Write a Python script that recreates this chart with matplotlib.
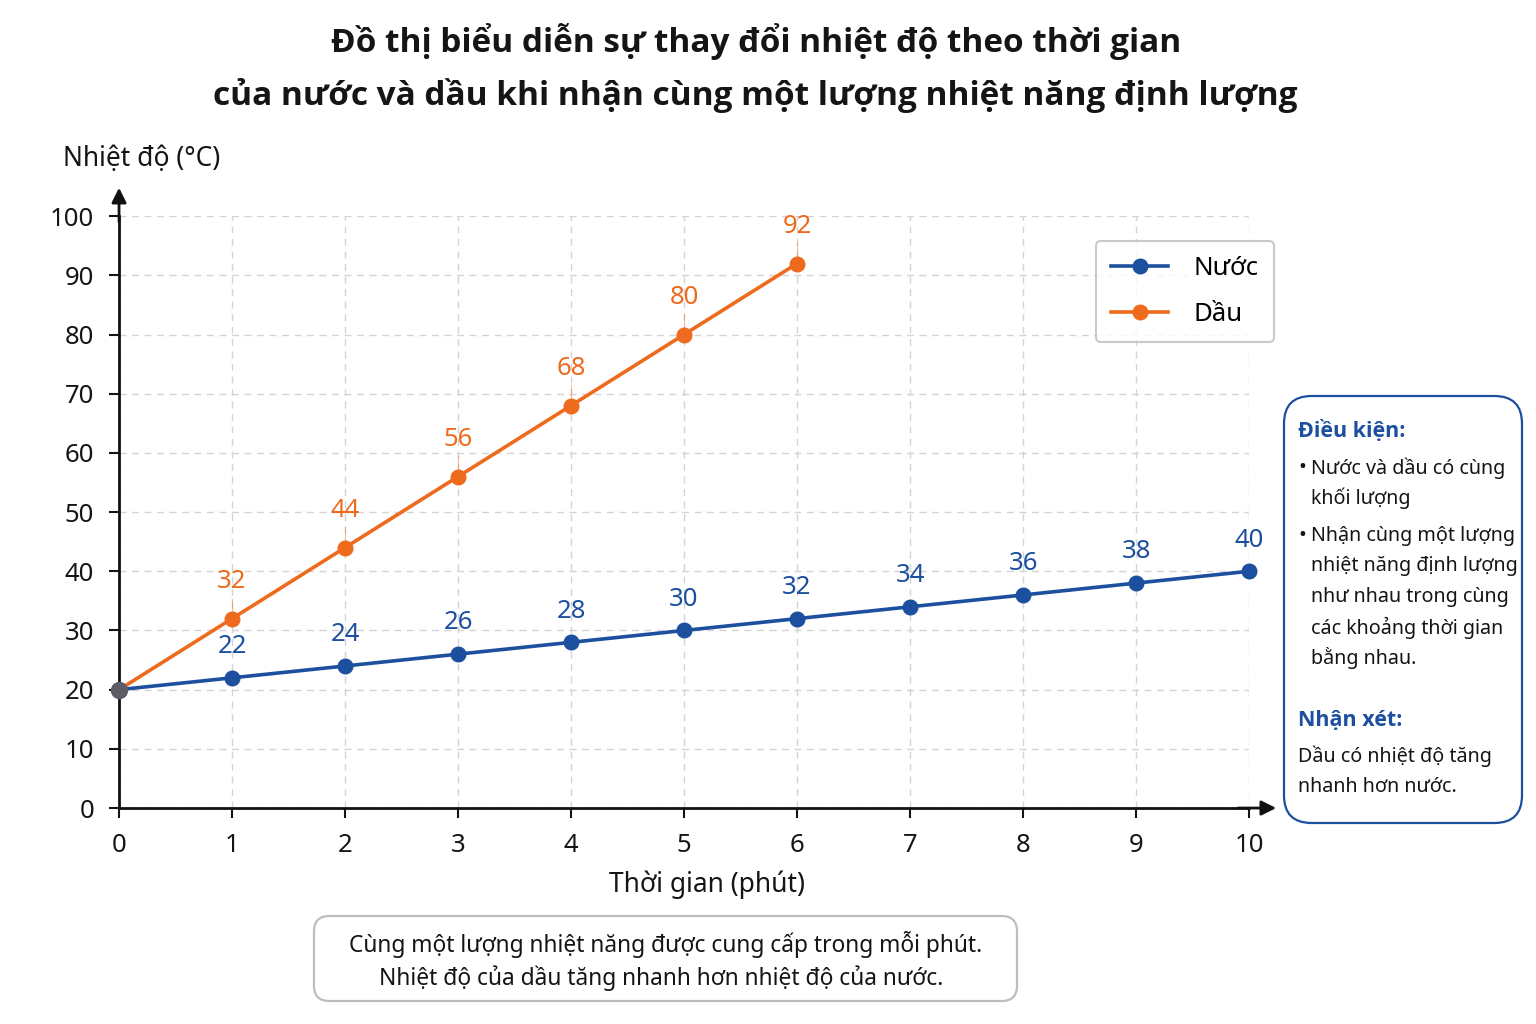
import matplotlib.pyplot as plt
from matplotlib.patches import FancyBboxPatch

plt.rcParams['font.family'] = ['Noto Sans', 'DejaVu Sans']
BOLD_FAMILY = ['Open Sans', 'DejaVu Sans']

minutes_water = [0, 1, 2, 3, 4, 5, 6, 7, 8, 9, 10]
temp_water = [20, 22, 24, 26, 28, 30, 32, 34, 36, 38, 40]
minutes_oil = [0, 1, 2, 3, 4, 5, 6]
temp_oil = [20, 32, 44, 56, 68, 80, 92]

x_ticks = list(range(0, 11))
y_ticks = list(range(0, 101, 10))

BLUE = '#1c4f9e'
ORANGE = '#ee6a1c'
GRAY = '#5c5c66'
TEXT = '#151515'

fig = plt.figure(figsize=(15.36, 10.24), dpi=100)
ax = fig.add_axes([0.0775, 0.2109, 0.7357, 0.578])

ax.plot(minutes_oil, temp_oil, color=ORANGE, lw=2.6, marker='o', ms=10.5,
        label='Dầu', zorder=4, clip_on=False)
ax.plot(minutes_water, temp_water, color=BLUE, lw=2.6, marker='o', ms=10.5,
        label='Nước', zorder=4, clip_on=False)
ax.plot([minutes_water[0]], [temp_water[0]], 'o', color=GRAY, ms=11.5,
        zorder=6, clip_on=False)

for x, y in zip(minutes_water[1:], temp_water[1:]):
    ax.annotate(str(y), (x, y), xytext=(0, 13.5), textcoords='offset points',
                ha='center', va='bottom', fontsize=18.5, color=BLUE, zorder=7)
for x, y in zip(minutes_oil[1:], temp_oil[1:]):
    ax.annotate(str(y), (x, y), xytext=(0, 18), textcoords='offset points',
                ha='center', va='bottom', fontsize=18.5, color=ORANGE, zorder=7)
    ax.plot([x, x], [y + 1.3, y + 3.4], color=ORANGE, lw=0.8, alpha=0.45, zorder=3)

ax.set_xlim(0, 10)
ax.set_ylim(0, 100)
ax.set_xticks(x_ticks)
ax.set_yticks(y_ticks)
ax.tick_params(labelsize=18.5, colors=TEXT, length=7, width=1.5, pad=11)
ax.grid(True, ls=(0, (5, 4)), color='#d4d4d4', lw=1)
ax.set_axisbelow(True)

for s in ['top', 'right']:
    ax.spines[s].set_visible(False)
for s in ['left', 'bottom']:
    ax.spines[s].set_linewidth(2)
    ax.spines[s].set_color('#111111')

# axis arrows
ax.annotate('', xy=(0, 1.048), xytext=(0, 0.99), xycoords='axes fraction',
            arrowprops=dict(arrowstyle='-|>', color='#111111', lw=2,
                            mutation_scale=22, shrinkA=0, shrinkB=0))
ax.annotate('', xy=(1.024, 0), xytext=(0.99, 0), xycoords='axes fraction',
            arrowprops=dict(arrowstyle='-|>', color='#111111', lw=2,
                            mutation_scale=22, shrinkA=0, shrinkB=0))

fig.text(0.041, 0.845, 'Nhiệt độ (°C)', fontsize=19, color=TEXT, ha='left', va='center')
fig.text(0.46, 0.136, 'Thời gian (phút)', fontsize=19, color=TEXT, ha='center', va='center')

fig.text(0.492, 0.959, 'Đồ thị biểu diễn sự thay đổi nhiệt độ theo thời gian',
         fontsize=24, fontweight='bold', family=BOLD_FAMILY, color=TEXT,
         ha='center', va='center')
fig.text(0.492, 0.907, 'của nước và dầu khi nhận cùng một lượng nhiệt năng định lượng',
         fontsize=24, fontweight='bold', family=BOLD_FAMILY, color=TEXT,
         ha='center', va='center')

handles, labels = ax.get_legend_handles_labels()
leg = fig.legend(handles[::-1], labels[::-1], loc='upper right',
                 bbox_to_anchor=(0.8295, 0.765), fontsize=18.5, frameon=True,
                 borderpad=0.6, labelspacing=0.8, handlelength=2.2,
                 handletextpad=1.0, borderaxespad=0, fancybox=True,
                 edgecolor='#bdbdbd')
leg.get_frame().set_linewidth(1.5)

# side box
side = FancyBboxPatch((1284 / 1536, 1 - 823 / 1024), (1522 - 1284) / 1536,
                      (823 - 396) / 1024, boxstyle='round,pad=0,rounding_size=0.018',
                      transform=fig.transFigure, facecolor='white', edgecolor=BLUE,
                      lw=1.6, mutation_aspect=1.5)
fig.add_artist(side)
lx = 1298 / 1536
fig.text(lx, 1 - 431 / 1024, 'Điều kiện:', fontsize=15.5, fontweight='bold',
         family=BOLD_FAMILY, color=BLUE, va='center')
fig.text(lx, 1 - 468 / 1024, '•', fontsize=15, color=TEXT, va='center')
body1 = ['Nước và dầu có cùng', 'khối lượng']
body2 = ['Nhận cùng một lượng', 'nhiệt năng định lượng', 'như nhau trong cùng',
         'các khoảng thời gian', 'bằng nhau.']
for i, t in enumerate(body1):
    fig.text(1311 / 1536, 1 - (468 + 30.5 * i) / 1024, t, fontsize=14.2,
             color=TEXT, va='center')
fig.text(lx, 1 - 536 / 1024, '•', fontsize=15, color=TEXT, va='center')
for i, t in enumerate(body2):
    fig.text(1311 / 1536, 1 - (536 + 30.5 * i) / 1024, t, fontsize=14.2,
             color=TEXT, va='center')
fig.text(lx, 1 - 720 / 1024, 'Nhận xét:', fontsize=15.5, fontweight='bold',
         family=BOLD_FAMILY, color=BLUE, va='center')
for i, t in enumerate(['Dầu có nhiệt độ tăng', 'nhanh hơn nước.']):
    fig.text(lx, 1 - (756 + 31 * i) / 1024, t, fontsize=14.2, color=TEXT, va='center')

# bottom box
bottom = FancyBboxPatch((314 / 1536, 1 - 1001 / 1024), (1017 - 314) / 1536,
                        (1001 - 916) / 1024, boxstyle='round,pad=0,rounding_size=0.01',
                        transform=fig.transFigure, facecolor='white', edgecolor='#bdbdbd',
                        lw=1.6, mutation_aspect=1.5)
fig.add_artist(bottom)
fig.text(666 / 1536, 1 - 944 / 1024,
         'Cùng một lượng nhiệt năng được cung cấp trong mỗi phút.',
         fontsize=16.4, color=TEXT, ha='center', va='center')
fig.text(661 / 1536, 1 - 978 / 1024,
         'Nhiệt độ của dầu tăng nhanh hơn nhiệt độ của nước.',
         fontsize=16.4, color=TEXT, ha='center', va='center')

fig.savefig('out.png', dpi=100)
